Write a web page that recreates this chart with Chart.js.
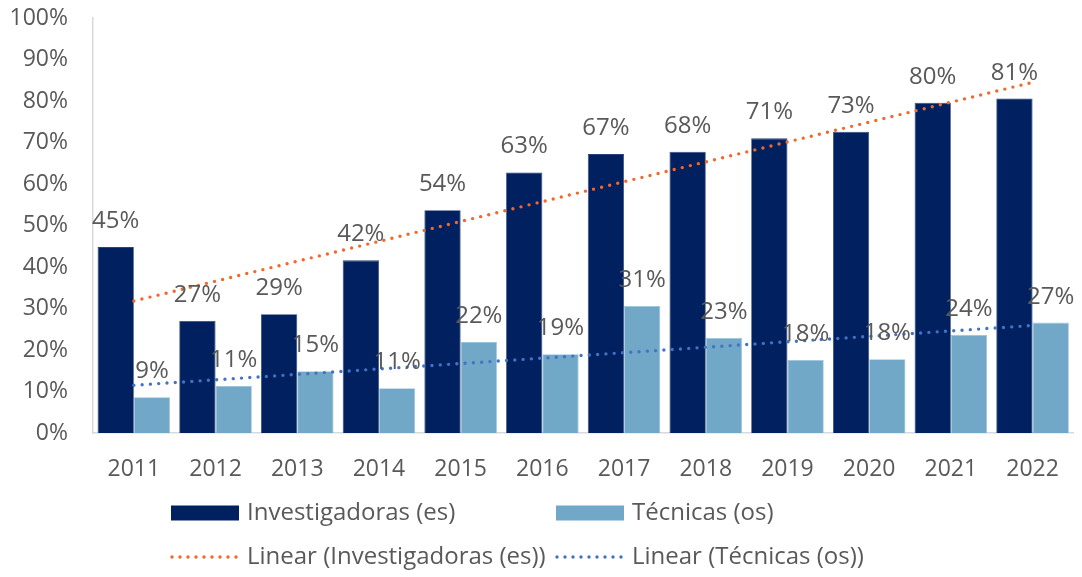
<!DOCTYPE html>
<html>
<head>
<meta charset="utf-8">
<script src="https://cdn.jsdelivr.net/npm/chart.js@4"></script>
<style>
  html, body { margin: 0; padding: 0; background: #ffffff; }
  #wrap { width: 1082px; height: 577px; position: relative; }
</style>
</head>
<body>
<div id="wrap"><canvas id="c" width="1082" height="577"></canvas></div>
<script>
const categories = ['2011','2012','2013','2014','2015','2016','2017','2018','2019','2020','2021','2022'];
const investigadoras = [44.8, 27.0, 28.6, 41.6, 53.7, 62.8, 67.2, 67.8, 71.0, 72.6, 79.6, 80.6];
const tecnicas = [8.6, 11.3, 14.9, 10.8, 21.9, 19.0, 30.6, 22.9, 17.6, 17.8, 23.6, 26.6];
// trend lines: only the two end points (straight line)
const trendInvestigadoras = [31.8, null, null, null, null, null, null, null, null, null, null, 84.5];
const trendTecnicas = [11.5, null, null, null, null, null, null, null, null, null, null, 25.9];
const yTicks = [0,10,20,30,40,50,60,70,80,90,100];
const seriesNames = ['Investigadoras (es)', 'Técnicas (os)', 'Linear (Investigadoras (es))', 'Linear (Técnicas (os))'];

const FONT = "'Open Sans', 'Noto Sans', sans-serif";
const TXT = '#595959';
const NAVY = '#002060';
const LIGHT = '#71A8C8';
const ORANGE = '#F0682A';
const BLUE = '#4472C4';

const labelPlugin = {
  id: 'barLabels',
  afterDatasetsDraw(chart) {
    const ctx = chart.ctx;
    ctx.save();
    ctx.font = '24px ' + FONT;
    ctx.fillStyle = TXT;
    ctx.textAlign = 'center';
    ctx.textBaseline = 'alphabetic';
    [0, 1].forEach(di => {
      const meta = chart.getDatasetMeta(di);
      const vals = chart.data.datasets[di].data;
      meta.data.forEach((bar, i) => {
        ctx.fillText(Math.round(vals[i]) + '%', bar.x, bar.y - 19);
      });
    });
    ctx.restore();
  }
};

const legendPlugin = {
  id: 'gridLegend',
  afterDraw(chart) {
    const ctx = chart.ctx;
    ctx.save();
    ctx.font = '24px ' + FONT;
    ctx.textAlign = 'left';
    ctx.textBaseline = 'middle';
    const cols = [171, 556];
    const rows = [513, 557];
    const sw = 68;
    ctx.fillStyle = NAVY; ctx.fillRect(cols[0], rows[0] - 7.5, sw, 15);
    ctx.fillStyle = LIGHT; ctx.fillRect(cols[1], rows[0] - 7.5, sw, 15);
    [[cols[0], ORANGE], [cols[1], BLUE]].forEach(([x, col]) => {
      ctx.strokeStyle = col;
      ctx.lineWidth = 3.4;
      ctx.lineCap = 'round';
      ctx.setLineDash([0, 8]);
      ctx.beginPath();
      ctx.moveTo(x + 1, rows[1]);
      ctx.lineTo(x + sw, rows[1]);
      ctx.stroke();
    });
    ctx.setLineDash([]);
    ctx.fillStyle = TXT;
    ctx.fillText(seriesNames[0], cols[0] + sw + 8, rows[0]);
    ctx.fillText(seriesNames[1], cols[1] + sw + 8, rows[0]);
    ctx.fillText(seriesNames[2], cols[0] + sw + 8, rows[1]);
    ctx.fillText(seriesNames[3], cols[1] + sw + 8, rows[1]);
    ctx.restore();
  }
};

new Chart(document.getElementById('c'), {
  type: 'bar',
  data: {
    labels: categories,
    datasets: [
      { label: seriesNames[0], data: investigadoras, backgroundColor: NAVY, borderColor: '#2a4478', borderWidth: 0.8,
        categoryPercentage: 0.888, barPercentage: 1.0, order: 2 },
      { label: seriesNames[1], data: tecnicas, backgroundColor: LIGHT, borderColor: '#9cc4dc', borderWidth: 0.8,
        categoryPercentage: 0.888, barPercentage: 1.0, order: 2 },
      { type: 'line', label: seriesNames[2], data: trendInvestigadoras, borderColor: ORANGE, borderWidth: 3.4,
        borderDash: [0, 8.3], borderCapStyle: 'round', pointRadius: 0, pointHoverRadius: 0, spanGaps: true, fill: false, order: 1 },
      { type: 'line', label: seriesNames[3], data: trendTecnicas, borderColor: BLUE, borderWidth: 3.4,
        borderDash: [0, 8.3], borderCapStyle: 'round', pointRadius: 0, pointHoverRadius: 0, spanGaps: true, fill: false, order: 1 }
    ]
  },
  options: {
    responsive: false,
    animation: false,
    layout: { autoPadding: false, padding: { left: 9, right: 3, top: 18, bottom: 95 } },
    plugins: {
      legend: { display: false },
      tooltip: { enabled: false }
    },
    scales: {
      x: {
        grid: { display: false, drawTicks: false },
        border: { display: true, color: '#D9D9D9', width: 1.5 },
        ticks: { color: TXT, font: { family: FONT, size: 23 }, padding: 23, maxRotation: 0 },
        afterFit(axis) { axis.height = 49; }
      },
      y: {
        min: 0, max: 100,
        afterBuildTicks(axis) { axis.ticks = yTicks.map(v => ({ value: v })); },
        grid: { display: false, drawTicks: false },
        border: { display: true, color: '#D9D9D9', width: 1.5 },
        ticks: { color: TXT, font: { family: FONT, size: 23 }, padding: 25, callback: v => v + '%' },
        afterFit(axis) { axis.width = 84; axis.paddingTop = 0; axis.paddingBottom = 0; }
      }
    }
  },
  plugins: [labelPlugin, legendPlugin]
});
</script>
</body>
</html>
